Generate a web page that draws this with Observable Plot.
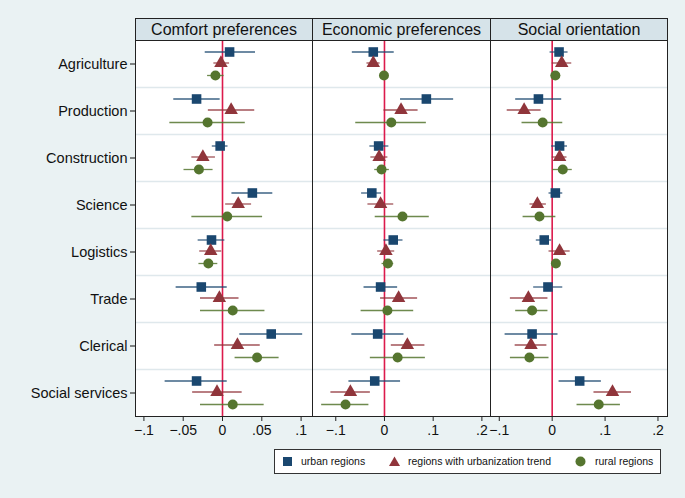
<!DOCTYPE html>
<html><head><meta charset="utf-8">
<script src="https://cdn.jsdelivr.net/npm/d3@7"></script>
<script src="https://cdn.jsdelivr.net/npm/@observablehq/plot@0.6"></script>
<style>
body{margin:0;background:#eaf2f3;}
#chart{position:relative;width:685px;height:498px;background:#eaf2f3;font-family:"Liberation Sans",Arial,sans-serif;overflow:hidden;color:#111}
.strip{position:absolute;top:18px;height:23px;background:#d6e3e9;border:1px solid #222;box-sizing:border-box;text-align:center;font-size:16px;line-height:21px;color:#111}
.pp{position:absolute;top:40px}
#legend{position:absolute;left:274px;top:449px;width:387px;height:25px;background:#fff;border:1px solid #333;box-sizing:border-box;font-size:10.5px}
#legend span{position:absolute;top:5px;white-space:nowrap}
#legend svg{position:absolute;top:6px}
</style></head>
<body>
<div id="chart"></div>
<script>
const categories = ["Agriculture","Production","Construction","Science","Logistics","Trade","Clerical","Social services"];
const panelTitles = ["Comfort preferences","Economic preferences","Social orientation"];
const seriesNames = ["urban regions","regions with urbanization trend","rural regions"];
// [estimate, lower, upper] per category
const comfortUrban = [[0.009,-0.022,0.042],[-0.033,-0.062,-0.003],[-0.003,-0.013,0.007],[0.038,0.012,0.064],[-0.014,-0.031,0.003],[-0.027,-0.059,0.006],[0.062,0.022,0.102],[-0.033,-0.073,0.006]];
const comfortTrend = [[-0.002,-0.011,0.009],[0.011,-0.018,0.041],[-0.025,-0.039,-0.009],[0.020,0.004,0.037],[-0.015,-0.029,-0.001],[-0.004,-0.028,0.021],[0.019,-0.010,0.048],[-0.007,-0.038,0.025]];
const comfortRural = [[-0.009,-0.019,0.002],[-0.019,-0.067,0.029],[-0.030,-0.049,-0.012],[0.006,-0.039,0.051],[-0.018,-0.030,-0.006],[0.013,-0.028,0.054],[0.044,0.016,0.072],[0.013,-0.028,0.053]];
const econUrban = [[-0.023,-0.066,0.020],[0.086,0.033,0.142],[-0.012,-0.030,0.009],[-0.026,-0.047,-0.006],[0.018,-0.001,0.038],[-0.008,-0.042,0.027],[-0.014,-0.067,0.040],[-0.020,-0.073,0.033]];
const econTrend = [[-0.023,-0.036,-0.009],[0.034,-0.001,0.069],[-0.011,-0.028,0.007],[-0.008,-0.034,0.019],[0.003,-0.014,0.021],[0.029,-0.008,0.068],[0.047,0.014,0.083],[-0.070,-0.110,-0.029]];
const econRural = [[-0.001,-0.004,0.003],[0.014,-0.059,0.086],[-0.006,-0.020,0.010],[0.037,-0.019,0.092],[0.007,-0.005,0.019],[0.006,-0.048,0.060],[0.027,-0.029,0.084],[-0.080,-0.129,-0.032]];
const socialUrban = [[0.013,-0.004,0.030],[-0.026,-0.069,0.018],[0.014,-0.001,0.029],[0.006,-0.006,0.020],[-0.015,-0.030,-0.001],[-0.008,-0.035,0.020],[-0.038,-0.089,0.011],[0.052,0.013,0.093]];
const socialTrend = [[0.018,0.000,0.037],[-0.053,-0.085,-0.021],[0.014,0.000,0.028],[-0.028,-0.042,-0.011],[0.014,-0.006,0.034],[-0.045,-0.079,-0.008],[-0.040,-0.070,-0.010],[0.114,0.079,0.150]];
const socialRural = [[0.006,-0.002,0.016],[-0.018,-0.057,0.020],[0.020,0.001,0.038],[-0.024,-0.055,0.007],[0.007,0.002,0.012],[-0.038,-0.069,-0.008],[-0.043,-0.079,-0.006],[0.088,0.047,0.129]];
const comfortTicks = [-0.1,-0.05,0,0.05,0.1];
const econTicks = [-0.1,0,0.1,0.2];
const socialTicks = [-0.1,0,0.1,0.2];

const colors = ["#1a476f","#90353b","#55752f"];
const symbols = ["square","triangle","circle"];
const offsets = [-12,-1,11.5];
const radii = [5.4,5,5];

const panelData = [[comfortUrban,comfortTrend,comfortRural],[econUrban,econTrend,econRural],[socialUrban,socialTrend,socialRural]];
const panelTicks = [comfortTicks, econTicks, socialTicks];
const panelDomains = [[-0.1107,0.1145],[-0.1478,0.2177],[-0.1166,0.218]];
const panelLeft = [135,312,490];
const panelWidth = [177,178,177];

const fmt = d => d === 0 ? "0" : (d < 0 ? "\u2212" : "") + String(Math.abs(d)).replace(/^0/, "");

const chart = document.getElementById("chart");

panelData.forEach((series, pi) => {
  const ml = pi === 0 ? 135 : 2;
  const mr = 2;
  const marks = [
    Plot.frame({fill: "white", stroke: "none"}),
    Plot.ruleY(categories.slice(1), {dy: -23.5, stroke: "#dfe8ec", strokeWidth: 1.5}),
    Plot.ruleX([0], {stroke: "#dc1a4c", strokeWidth: 1.6})
  ];
  series.forEach((arr, si) => {
    const rows = arr.map((v, ci) => ({category: categories[ci], est: v[0], lo: v[1], hi: v[2], series: seriesNames[si]}));
    marks.push(Plot.ruleY(rows, {y: "category", x1: "lo", x2: "hi", dy: offsets[si], stroke: colors[si], strokeWidth: 1.3, strokeOpacity: 0.85}));
    marks.push(Plot.dot(rows, {y: "category", x: "est", dy: offsets[si], symbol: () => symbols[si], r: radii[si], fill: colors[si], stroke: "none"}));
  });
  marks.push(Plot.axisX({ticks: panelTicks[pi], tickFormat: fmt, tickSize: 5, tickPadding: 4, fontSize: 14, label: null, stroke: "#222"}));
  if (pi === 0) marks.push(Plot.axisY({tickSize: 5, tickPadding: 3, fontSize: 14.5, label: null}));
  marks.push(Plot.frame({stroke: "#222", strokeWidth: 1}));
  const svg = Plot.plot({
    width: panelWidth[pi] + ml + mr,
    height: 376 + 40,
    marginTop: 0, marginBottom: 40, marginLeft: ml, marginRight: mr,
    x: {domain: panelDomains[pi], axis: null},
    y: {type: "band", domain: categories, padding: 0, align: 0.5, axis: null},
    style: {background: "transparent", overflow: "visible", fontFamily: "Liberation Sans, Arial, sans-serif", color: "#111"},
    marks
  });
  svg.classList.add("pp");
  svg.style.left = (panelLeft[pi] - ml) + "px";
  chart.appendChild(svg);
  const strip = document.createElement("div");
  strip.className = "strip";
  strip.style.left = panelLeft[pi] + "px";
  strip.style.width = (panelWidth[pi] + 1) + "px";
  strip.textContent = panelTitles[pi];
  chart.appendChild(strip);
});

// legend
const legend = document.createElement("div");
legend.id = "legend";
const legPos = [[7, 26], [114, 133], [300, 320]];
const symPaths = [
  '<rect x="1" y="1" width="9" height="9"/>',
  '<path d="M5.5 0.5 L11 10 L0 10 Z"/>',
  '<circle cx="5.5" cy="5.5" r="5"/>'
];
seriesNames.forEach((name, i) => {
  const s = document.createElementNS("http://www.w3.org/2000/svg", "svg");
  s.setAttribute("width", 11); s.setAttribute("height", 11);
  s.style.left = legPos[i][0] + "px";
  s.setAttribute("fill", colors[i]);
  s.innerHTML = symPaths[i];
  legend.appendChild(s);
  const t = document.createElement("span");
  t.style.left = legPos[i][1] + "px";
  t.textContent = name;
  legend.appendChild(t);
});
chart.appendChild(legend);
</script>
</body></html>
